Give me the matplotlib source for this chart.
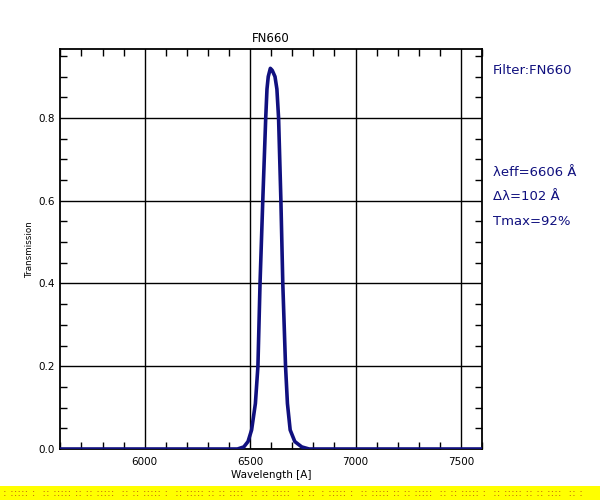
import matplotlib
matplotlib.use("Agg")
import matplotlib.pyplot as plt
from matplotlib.ticker import MultipleLocator
from matplotlib.patches import Rectangle

# ---- data ----
wavelength = [5600, 6400, 6440, 6470, 6490, 6507, 6525, 6537, 6547, 6560, 6574, 6580,
              6586, 6596, 6605, 6618, 6627, 6635, 6646, 6655, 6668, 6677, 6690,
              6712, 6745, 6780, 7600]
transmission = [0.0, 0.0, 0.0, 0.005, 0.018, 0.046, 0.11, 0.20, 0.40, 0.60, 0.80, 0.87,
                0.90, 0.92, 0.915, 0.90, 0.87, 0.80, 0.60, 0.40, 0.20, 0.11, 0.046,
                0.018, 0.005, 0.0, 0.0]
x_ticks = [6000, 6500, 7000, 7500]
y_ticks = [0.0, 0.2, 0.4, 0.6, 0.8]
title = "FN660"
info_lines = ["Filter:FN660", "λeff=6606 Å", "Δλ=102 Å", "Tmax=92%"]

navy = "#10107f"

fig = plt.figure(figsize=(6, 5), dpi=100)
ax = fig.add_axes([60.4 / 600, 1 - 449 / 500, (482 - 60.4) / 600, (449 - 49.3) / 500])

ax.plot(wavelength, transmission, color=navy, lw=2.6, solid_joinstyle="round", zorder=3)

ax.set_xlim(5600, 7600)
ax.set_ylim(0, 0.966)
ax.set_xticks(x_ticks)
ax.set_yticks(y_ticks)
ax.set_yticklabels([f"{v:.1f}" for v in y_ticks])
ax.xaxis.set_minor_locator(MultipleLocator(100))
ax.yaxis.set_minor_locator(MultipleLocator(0.05))
ax.grid(True, which="major", color="black", lw=1.0)
ax.tick_params(which="both", direction="in", top=True, right=True, labelsize=7.5,
               colors="black")
ax.tick_params(which="major", length=0, pad=6)
ax.tick_params(which="minor", length=5, width=1.0)
ax.tick_params(axis="y", which="major", pad=4)
for s in ax.spines.values():
    s.set_linewidth(1.3)

ax.set_title(title, fontsize=8.5, pad=5)
ax.set_xlabel("Wavelength [A]", fontsize=7.5, labelpad=2)
ax.set_ylabel("Transmission", fontsize=6.3, labelpad=3)

# right-side info text
fig.text(493 / 600, 1 - 71 / 500, info_lines[0], color=navy, fontsize=9.5, va="center")
ys = [172, 197, 221.5]
for line, y in zip(info_lines[1:], ys):
    fig.text(493 / 600, 1 - y / 500, line, color=navy, fontsize=9.5, va="center")

# yellow strip at the bottom
fig.patches.append(Rectangle((0, 0), 1, 14 / 500, transform=fig.transFigure,
                             facecolor="#ffff00", edgecolor="none", zorder=0))
strip_a = ": ::::: :  :: ::::: :: :: :::::  :: :: ::::: :  :: ::::: :: :: ::::  :: :: :::::  :: ::"
strip_b = ": ::::: :  :: ::::: :: :: :::::  :: :: ::::: :  :: ::::: :: :: ::::  :: :"
fig.text(0.005, 7 / 500, strip_a, color="#b04010", fontsize=8, va="center", alpha=0.85)
fig.text(0.535, 7 / 500, strip_b, color="#b04010", fontsize=8, va="center", alpha=0.85)

fig.savefig("out.png", dpi=100)
